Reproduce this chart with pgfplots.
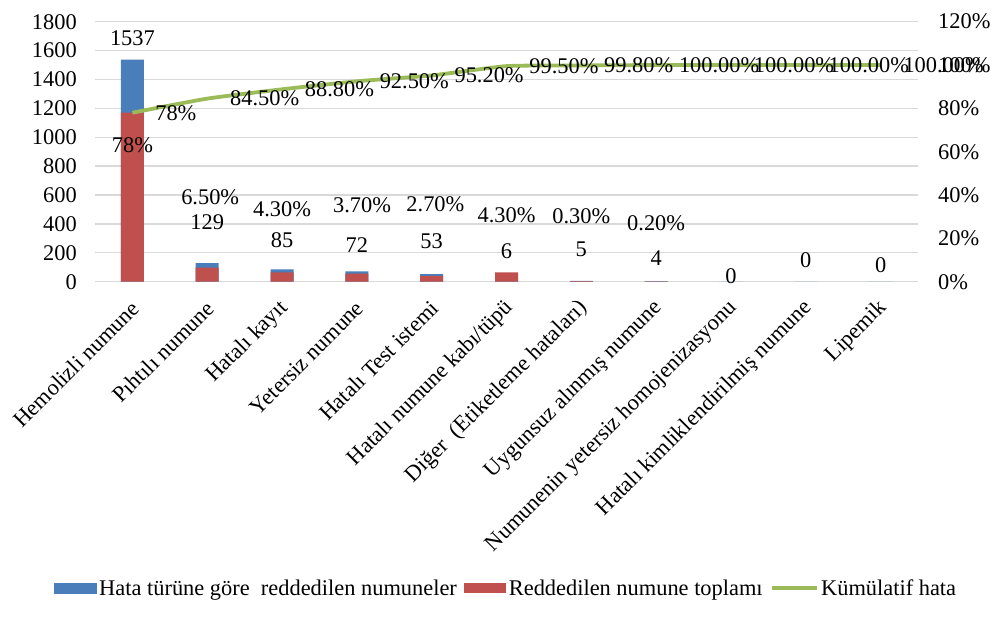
\documentclass[border=0pt]{standalone}
\usepackage{pgfplots}
\pgfplotsset{compat=1.18}
\usepackage{fontspec}
\setmainfont{Liberation Serif}
\definecolor{cblue}{HTML}{4A7EBB}
\definecolor{cred}{HTML}{C0504D}
\definecolor{cgreen}{HTML}{9BBB59}
\definecolor{cgrid}{HTML}{D9D9D9}
\newcommand\ff{\fontsize{22.4}{26.9}\selectfont}
\begin{document}
\begin{tikzpicture}[x=1pt,y=1pt]
\useasboundingbox (0,0) rectangle (995,616);
\pgfplotsset{
  base/.style={
    scale only axis, width=823pt, height=260pt,
    at={(95pt,334.3pt)}, anchor=south west,
    xmin=-0.5, xmax=10.5,
    axis line style={draw=none},
    major tick length=0pt,
    tick label style={font=\ff},
    font=\ff,
  }
}
\begin{axis}[base,
  ymin=0, ymax=1800, ytick={0,200,...,1800},
  ymajorgrids, grid style={cgrid, line width=1.3pt},
  yticklabel style={inner sep=0pt, xshift=-18pt, /pgf/number format/assume math mode=true, /pgf/number format/set thousands separator={}},
  xtick={0,...,10},
  xticklabels={Hemolizli numune, Pıhtılı numune, Hatalı kayıt, Yetersiz numune, Hatalı Test istemi, Hatalı numune kabı/tüpü, Diğer~ (Etiketleme hataları), Uygunsuz alınmış numune, Numunenin yetersiz homojenizasyonu, Hatalı kimliklendirilmiş numune, Lipemik},
  xticklabel style={xshift=3pt, yshift=-23pt, rotate=45, anchor=east, inner sep=0pt},
]
\addplot[ybar, bar width=23pt, fill=cblue, draw=none] coordinates {
 (0,1537) (1,129) (2,85) (3,72) (4,53) (5,6) (6,5) (7,4) (8,0) (9,0) (10,0)};
% value labels of the blue series
\addplot[draw=none, forget plot, nodes near coords, point meta=explicit symbolic,
  every node near coord/.style={anchor=center, inner sep=0pt, text=black, font=\ff}] coordinates {
 (0,1687)[1537] (1,415)[129] (2,289)[85] (3,254)[72] (4,277)[53] (5,208)[6]
 (6,226)[5] (7,164)[4] (8,40)[0] (9,150)[0] (10,116)[0]};
\end{axis}
\begin{axis}[base,
  axis y line*=right, axis x line=none,
  ymin=0, ymax=120, ytick={0,20,...,120},
  yticklabel={\pgfmathprintnumber[assume math mode=true]{\tick}\%},
  yticklabel style={inner sep=0pt, anchor=west, xshift=20pt},
  legend columns=3,
  legend style={draw=none, fill=none, at={(0.5,-1.178)}, anchor=center, font=\ff,
    /tikz/every even column/.append style={column sep=5pt},
    nodes={inner sep=2.5pt}},
]
\addlegendimage{legend image code/.code={\fill[cblue] (0pt,-5pt) rectangle (42pt,5pt);}}
\addlegendentry{Hata türüne göre~ reddedilen numuneler}
\addplot[ybar, bar width=23pt, fill=cred, draw=none,
  legend image code/.code={\fill[cred] (0pt,-5pt) rectangle (42pt,5pt);}] coordinates {
 (0,78) (1,6.5) (2,4.3) (3,3.7) (4,2.7) (5,4.3) (6,0.3) (7,0.2)};
\addlegendentry{Reddedilen numune toplamı}
\addplot[cgreen, line width=3.8pt, smooth, tension=0.3,
  legend image code/.code={\draw[cgreen, line width=3.5pt] (0pt,0pt) -- (45pt,0pt);},
  nodes near coords, point meta=explicit symbolic,
  every node near coord/.style={anchor=west, inner sep=0pt, xshift=21pt, text=black, font=\ff}] coordinates {
 (0,78)[78\%] (1,84.5)[84.50\%] (2,88.8)[88.80\%] (3,92.5)[92.50\%] (4,95.2)[95.20\%]
 (5,99.5)[99.50\%] (6,99.8)[99.80\%] (7,100)[100.00\%] (8,100)[100.00\%] (9,100)[100.00\%] (10,100)[100.00\%]};
\addlegendentry{Kümülatif hata}
% value labels of the red series
\addplot[draw=none, forget plot, nodes near coords, point meta=explicit symbolic,
  every node near coord/.style={anchor=center, inner sep=0pt, text=black, font=\ff}] coordinates {
 (0,62.8)[78\%] (1.04,39.2)[6.50\%] (2,33.6)[4.30\%] (3.07,35.4)[3.70\%] (4.05,35.9)[2.70\%]
 (5,30.8)[4.30\%] (6,30)[0.30\%] (7,27.1)[0.20\%]};
\end{axis}
\end{tikzpicture}
\end{document}
